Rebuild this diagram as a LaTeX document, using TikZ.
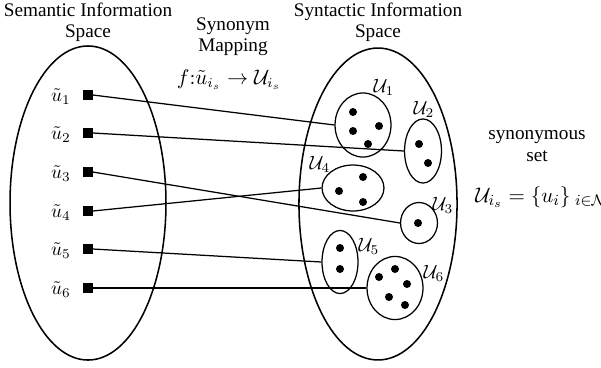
\documentclass[tikz,border=0pt]{standalone}
\usepackage{amsmath, amssymb}
\usepackage{fontspec}
\setmainfont{Liberation Serif}
\usetikzlibrary{shapes.geometric}

\begin{document}
\begin{tikzpicture}[
    x=0.52pt, y=-0.52pt,
    space/.style={draw, ellipse, line width=0.8pt, inner sep=0pt},
    synset/.style={draw, ellipse, line width=0.65pt, inner sep=0pt},
    word/.style={draw, fill=black, rectangle, inner sep=0pt, minimum size=4.6pt},
    link/.style={line width=0.65pt},
    title/.style={align=center, font=\fontsize{10}{11}\selectfont}
]
    \useasboundingbox (0,0) rectangle (601,367);

    % Titles
    \node[title] (semtitle) at (88,22) {Semantic Information\\Space};
    \node[title] (syntitle) at (378,22) {Syntactic Information\\Space};
    \node[title] (maptitle) at (233,37) {Synonym\\Mapping};
    \node[font=\fontsize{10.6}{12}\selectfont] (mapping) at (229,80) {$f{:}\tilde{u}_{i_s}\rightarrow\mathcal{U}_{i_s}$};

    % Semantic Side
    \node[space, minimum width=81.1pt, minimum height=163.3pt] (sem) at (88,203) {};
    \node[word] (s1) at (88,95) {};
    \node[word] (s2) at (88,133) {};
    \node[word] (s3) at (88,172) {};
    \node[word] (s4) at (88,211) {};
    \node[word] (s5) at (88,249) {};
    \node[word] (s6) at (88,288) {};
    \node (l1) at (61,97) {$\tilde{u}_1$};
    \node (l2) at (61,135) {$\tilde{u}_2$};
    \node (l3) at (61,174) {$\tilde{u}_3$};
    \node (l4) at (61,213) {$\tilde{u}_4$};
    \node (l5) at (61,251) {$\tilde{u}_5$};
    \node (l6) at (61,290) {$\tilde{u}_6$};

    % Syntactic Side
    \node[space, minimum width=82.2pt, minimum height=162.2pt] (syn) at (378,204) {};

    \node[synset, minimum width=29.1pt, minimum height=33.3pt] (U1) at (363,125) {};
    \fill (353,112) circle (4) (353,131) circle (4) (379,126) circle (4) (368,144) circle (4);
    \node (t1) at (384,87) {$\mathcal{U}_1$};

    \node[synset, minimum width=19.2pt, minimum height=33.3pt] (U2) at (423,151) {};
    \fill (419,144) circle (4) (428,163) circle (4);
    \node (t2) at (424,109) {$\mathcal{U}_2$};

    \node[synset, minimum width=32.2pt, minimum height=23.9pt] (U4) at (353,188) {};
    \fill (339,191) circle (4) (363,177) circle (4) (363,202) circle (4);
    \node (t4) at (320,164) {$\mathcal{U}_4$};

    \node[synset, minimum width=19.2pt, minimum height=21.3pt] (U3) at (419,223) {};
    \fill (418,223) circle (4);
    \node (t3) at (443,205) {$\mathcal{U}_3$};

    \node[synset, minimum width=18.7pt, minimum height=32.8pt] (U5) at (340,262) {};
    \fill (340,248) circle (4) (340,269) circle (4);
    \node (t5) at (369,246) {$\mathcal{U}_5$};

    \node[synset, minimum width=29.1pt, minimum height=32.8pt] (U6) at (395,288) {};
    \fill (379,277) circle (4) (395,269) circle (4) (407,284) circle (4) (389,297) circle (4) (405,305) circle (4);
    \node (t6) at (434,273) {$\mathcal{U}_6$};

    % Mapping Links
    \draw[link] (s1.east) -- (U1.west);
    \draw[link] (s2.east) -- (U2.west);
    \draw[link] (s3.east) -- (U3.west);
    \draw[link] (s4.east) -- (U4.west);
    \draw[link] (s5.east) -- (U5.west);
    \draw[link] (s6.east) -- (U6.west);

    % Synonymous Set
    \node[title] (settitle) at (537,146) {synonymous\\set};
    \node[anchor=west, inner sep=0pt, font=\fontsize{11.4}{14}\selectfont] (setdef) at (475,198) {$\mathcal{U}_{i_s}=\{u_i\}_{\;i\in\mathcal{N}_{i_s}}$};

\end{tikzpicture}
\end{document}
